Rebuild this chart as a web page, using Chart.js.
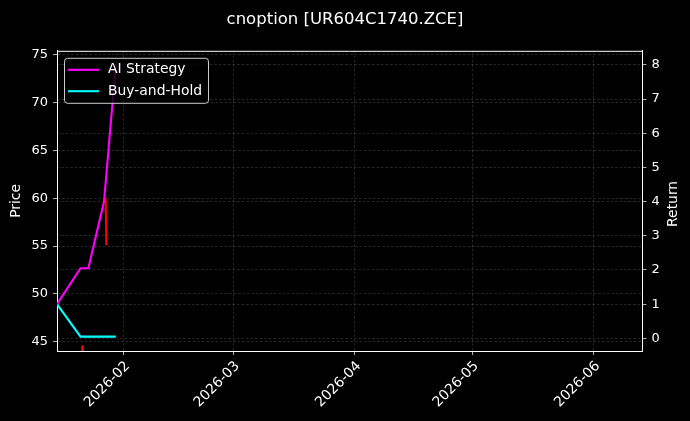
<!DOCTYPE html>
<html>
<head>
<meta charset="utf-8">
<script src="https://cdn.jsdelivr.net/npm/chart.js@4.4.0/dist/chart.umd.min.js"></script>
<style>
    html, body { margin: 0; padding: 0; background: #000; }
    #container { width: 690px; height: 421px; }
</style>
</head>
<body>
<div id="container"><canvas id="myChart" width="690" height="421"></canvas></div>
<script>
// dates of the backtest points
const dates = ['2026-01-15', '2026-01-21', '2026-01-23', '2026-01-27', '2026-01-30']
const aiReturn = [1.0, 2.05, 2.05, 4.0, 8.0]
const bhReturn = [1.0, 0.05, 0.05, 0.05, 0.05]

// option price (only a few short pieces are visible)
const priceDates = ['2026-01-21T10', '2026-01-21T14', '2026-01-24T00', '2026-01-27T10', '2026-01-27T14']
const priceValues = [44.6, 43.0, null, 60.0, 55.1]

// axes
const xRange = ['2026-01-15T00', '2026-06-13T06']
const monthTicks = ['2026-02', '2026-03', '2026-04', '2026-05', '2026-06']
const priceTicks = [45, 50, 55, 60, 65, 70, 75]
const returnTicks = [0, 1, 2, 3, 4, 5, 6, 7, 8]

const toDay = (s) => {
    let parts = s.split('T')
    let d = parts[0].split('-').map(Number)
    let h = parts[1] ? Number(parts[1]) : 0
    return Date.UTC(d[0], d[1] - 1, d[2] || 1, h) / 86400000
}

const white = '#ffffff'
const gridColor = 'rgba(255,255,255,0.22)'
const font = 'DejaVu Sans'

const pageBackground = {
    id: 'pageBackground',
    beforeDraw(chart) {
        const c = chart.ctx
        c.save()
        c.fillStyle = '#000'
        c.fillRect(0, 0, chart.width, chart.height)
        c.restore()
    }
}

// legend inside the plot, upper left, like matplotlib
const innerLegend = {
    id: 'innerLegend',
    afterDatasetsDraw(chart) {
        const c = chart.ctx
        const a = chart.chartArea
        const items = chart.data.datasets.filter(ds => ds.inLegend)
        let x = a.left + 7.5
        let y = a.top + 7.5
        let w = 144
        let h = 45
        c.save()
        c.beginPath()
        c.roundRect(x, y, w, h, 3)
        c.fillStyle = 'rgba(0,0,0,0.8)'
        c.fill()
        c.strokeStyle = 'rgba(255,255,255,0.8)'
        c.lineWidth = 1
        c.stroke()
        c.font = '13.9px ' + font
        c.textBaseline = 'middle'
        items.forEach((ds, i) => {
            let yy = y + 11.5 + i * 21.4
            c.strokeStyle = ds.borderColor
            c.lineWidth = 2.1
            c.beginPath()
            c.moveTo(x + 3.5, yy)
            c.lineTo(x + 34.5, yy)
            c.stroke()
            c.fillStyle = white
            c.fillText(ds.label, x + 43.5, yy)
        })
        c.restore()
    }
}

const frameAndLabel = {
    id: 'frameAndLabel',
    afterDraw(chart) {
        const c = chart.ctx
        const a = chart.chartArea
        c.save()
        c.strokeStyle = white
        c.lineWidth = 1
        c.beginPath()
        c.moveTo(a.left, a.top + 0.5)
        c.lineTo(a.right, a.top + 0.5)
        c.stroke()
        // right axis label reads bottom to top
        c.translate(673, (a.top + a.bottom) / 2 + 3)
        c.rotate(-Math.PI / 2)
        c.fillStyle = white
        c.font = '13.9px ' + font
        c.textAlign = 'center'
        c.textBaseline = 'middle'
        c.fillText('Return', 0, 0)
        c.restore()
    }
}

const ctx = document.getElementById('myChart')

const gridStyle = {
    color: gridColor,
    lineWidth: 0.7,
    tickColor: white,
    tickLength: 4,
    tickBorderDash: [],
}

const myChart = new Chart(ctx, {
    type: 'line',
    data: {
        datasets: [{
            label: 'Price',
            data: priceDates.map((d, i) => ({ x: toDay(d), y: priceValues[i] })),
            borderColor: '#ff0000',
            borderWidth: 2.1,
            pointRadius: 0,
            spanGaps: false,
            yAxisID: 'y',
            inLegend: false,
        }, {
            label: 'AI Strategy',
            data: dates.map((d, i) => ({ x: toDay(d), y: aiReturn[i] })),
            borderColor: '#ff00ff',
            borderWidth: 2.1,
            pointRadius: 0,
            yAxisID: 'y1',
            inLegend: true,
        }, {
            label: 'Buy-and-Hold',
            data: dates.map((d, i) => ({ x: toDay(d), y: bhReturn[i] })),
            borderColor: '#00ffff',
            borderWidth: 2.1,
            pointRadius: 0,
            yAxisID: 'y1',
            inLegend: true,
        }],
    },
    options: {
        responsive: false,
        animation: false,
        layout: { padding: 0 },
        plugins: {
            legend: { display: false },
            tooltip: { enabled: false },
            title: {
                display: true,
                text: 'cnoption [UR604C1740.ZCE]',
                color: white,
                font: { family: font, size: 16.5, weight: 'normal' },
                padding: { top: 10, bottom: 21 },
            },
        },
        scales: {
            x: {
                type: 'linear',
                min: toDay(xRange[0]),
                max: toDay(xRange[1]),
                afterBuildTicks: (scale) => {
                    scale.ticks = monthTicks.map(m => ({ value: toDay(m) }))
                },
                afterFit: (scale) => { scale.height = 70 },
                ticks: {
                    color: white,
                    font: { family: font, size: 13.9 },
                    minRotation: 45,
                    maxRotation: 45,
                    padding: 3,
                    labelOffset: 4,
                    callback: (value, index) => monthTicks[index],
                },
                grid: gridStyle,
                border: { color: white, width: 1, dash: [2.5, 2] },
            },
            y: {
                position: 'left',
                min: 44.03,
                max: 75.42,
                afterBuildTicks: (scale) => {
                    scale.ticks = priceTicks.map(v => ({ value: v }))
                },
                afterFit: (scale) => { scale.width = 57 },
                ticks: {
                    color: white,
                    font: { family: font, size: 13 },
                    padding: 5,
                },
                title: {
                    display: true,
                    text: 'Price',
                    color: white,
                    font: { family: font, size: 13.9 },
                    padding: { top: 8, bottom: 0 },
                },
                grid: gridStyle,
                border: { color: white, width: 1, dash: [2.5, 2] },
            },
            y1: {
                position: 'right',
                min: -0.37,
                max: 8.41,
                afterBuildTicks: (scale) => {
                    scale.ticks = returnTicks.map(v => ({ value: v }))
                },
                afterFit: (scale) => { scale.width = 48 },
                ticks: {
                    color: white,
                    font: { family: font, size: 13 },
                    padding: 5,
                },
                grid: { ...gridStyle, tickLength: 4.5 },
                border: { color: white, width: 1, dash: [2.5, 2] },
            },
        },
    },
    plugins: [pageBackground, innerLegend, frameAndLabel],
})
</script>
</body>
</html>
